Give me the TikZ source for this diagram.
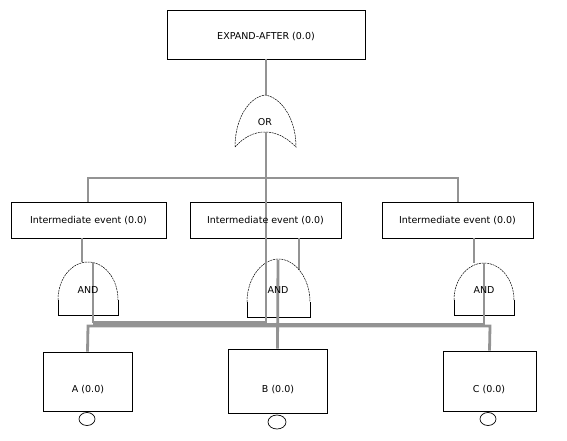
\documentclass[tikz,border=0pt]{standalone}
\usepackage{fontspec}
\setmainfont{DejaVu Sans}
\usetikzlibrary{shapes.geometric}
\begin{document}
\begin{tikzpicture}[x=1pt,y=-1pt,
  box/.style={draw=black,line width=0.9pt,fill=white,inner sep=0pt},
  lbl/.style={font=\fontsize{9.5}{11}\selectfont,inner sep=0pt},
  thin/.style={draw=gray!85,line width=2pt},
  thick/.style={draw=gray!85,line width=2.8pt},
  gate/.style={draw=black,line width=0.5pt,dash pattern=on 2pt off 0.8pt},
  gatebase/.style={draw=black,line width=0.7pt},
  basic/.style={draw=black,line width=0.7pt,ellipse,inner sep=0pt}]
\useasboundingbox (0,0) rectangle (567,440);
% boxes as nodes
\node[box,minimum width=198pt,minimum height=49pt] (top) at (266,34.5) {};
\node[box,minimum width=155pt,minimum height=36pt] (i1) at (88.5,220) {};
\node[box,minimum width=151pt,minimum height=36pt] (i2) at (265.5,220) {};
\node[box,minimum width=151pt,minimum height=36pt] (i3) at (457.5,220) {};
\node[box,minimum width=89pt,minimum height=59pt] (a) at (87.5,381.5) {};
\node[box,minimum width=99pt,minimum height=64pt] (b) at (277.5,381) {};
\node[box,minimum width=93pt,minimum height=60pt] (c) at (489.5,381) {};
% connector coordinates
\coordinate (ortop) at (266,95);
\coordinate (orbot) at (266,132);
\coordinate (g1top) at (82,262);
\coordinate (g2top) at (299,270);
\coordinate (g3top) at (474,263);
\coordinate (g1out) at (93,262);
\coordinate (g2out) at (278,260);
\coordinate (g3out) at (484,263);
% thin connectors
\draw[thin] (top.south) -- (ortop);
\draw[thin] (i1.north -| 88,0) -- (88,178) -- (458,178) -- (i3.north -| 458,0);
\draw[thin] (i1.south -| g1top) -- (g1top);
\draw[thin] (i2.south -| g2top) -- (g2top);
\draw[thin] (i3.south -| g3top) -- (g3top);
% OR gate
\node[lbl] (orl) at (265,122) {OR};
\draw[gate] (235,147) .. controls (235,117) and (250,97) .. (265,95)
  .. controls (280,97) and (296,117) .. (296,147)
  .. controls (286,137) and (276,132) .. (265,132)
  .. controls (254,132) and (244,137) .. (235,147);
% AND gates
\draw[gate] (58,300) .. controls (58,278) and (72,262) .. (88,262) .. controls (104,262) and (118,278) .. (118,300);
\draw[gatebase] (58,300) -- (58,315) -- (118,315) -- (118,300);
\draw[gate] (247,302) .. controls (247,278) and (262,259) .. (278.5,259) .. controls (295,259) and (310,278) .. (310,302);
\draw[gatebase] (247,302) -- (247,317) -- (310,317) -- (310,302);
\draw[gate] (454,300) .. controls (454,279) and (468,263) .. (484,263) .. controls (500,263) and (514,279) .. (514,300);
\draw[gatebase] (454,300) -- (454,315) -- (514,315) -- (514,300);
% thick connectors
\draw[thin,line width=1.4pt] (g1out) -- (93,322) -- (266,322);
\draw[thin,line width=1.4pt] (93,324) -- (266,324);
\draw[thick] (orbot) -- (266,325);
\draw[thick] (g1out) -- (93,320);
\draw[thick] (a.north) -- (88,326) -- (490,326) -- (c.north);
\draw[thick] (g3out) -- (484,324) -- (266,324);
\draw[thick] (g2out) -- (b.north);
% labels
\node[lbl] at (266,36.5) {EXPAND-AFTER (0.0)};
\node[lbl] at (88.5,221) {Intermediate event (0.0)};
\node[lbl] at (265.5,221) {Intermediate event (0.0)};
\node[lbl] at (457.5,221) {Intermediate event (0.0)};
\node[lbl] at (88,290) {AND};
\node[lbl] at (278,290) {AND};
\node[lbl] at (484,290) {AND};
\node[lbl] at (88,390) {A (0.0)};
\node[lbl] at (278,390) {B (0.0)};
\node[lbl] at (489,390) {C (0.0)};
% circles
\node[basic,minimum width=16pt,minimum height=13pt] (ca) at (87,419) {};
\node[basic,minimum width=18pt,minimum height=14pt] (cb) at (277,422) {};
\node[basic,minimum width=16pt,minimum height=13pt] (cc) at (488,419) {};
\end{tikzpicture}
\end{document}
